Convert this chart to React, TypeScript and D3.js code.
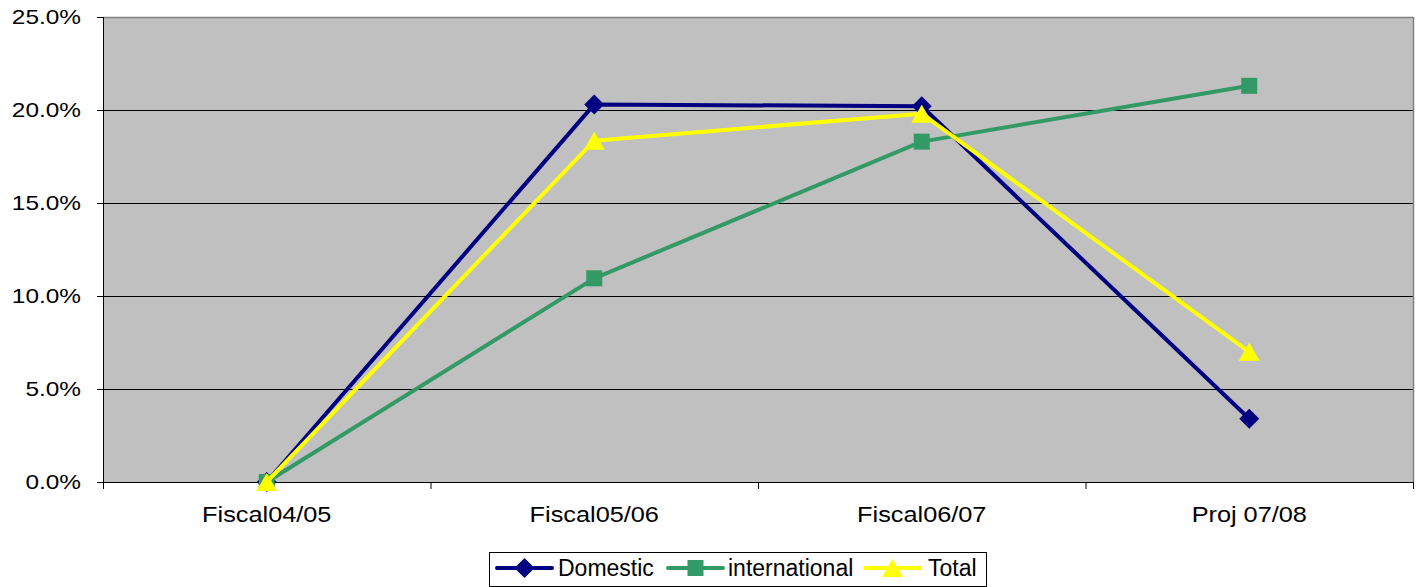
import React from "react";
import * as d3 from "d3";

const categories = ["Fiscal04/05", "Fiscal05/06", "Fiscal06/07", "Proj 07/08"];
const domestic = [0.0, 20.3, 20.2, 3.4];
const international = [0.0, 10.95, 18.3, 21.3];
const total = [0.0, 18.35, 19.8, 7.0];
const yTicks = [0, 5, 10, 15, 20, 25];

const series = [
  { name: "Domestic", values: domestic, color: "#000080", marker: "diamond" },
  { name: "international", values: international, color: "#339966", marker: "square" },
  { name: "Total", values: total, color: "#FFFF00", marker: "triangle" },
];

const W = 1422, H = 587;
const left = 103, right = 1413, top = 17, bottom = 482;
const font = "'Liberation Sans', Arial, sans-serif";

function Marker({ type, x, y, color }: { type: string; x: number; y: number; color: string }) {
  if (type === "diamond") {
    const s = 10;
    return <path d={`M${x},${y - s}L${x + s},${y}L${x},${y + s}L${x - s},${y}Z`} fill={color} />;
  }
  if (type === "square") {
    const s = 8;
    return <rect x={x - s} y={y - s} width={2 * s} height={2 * s} fill={color} />;
  }
  const s = 10.5;
  return <path d={`M${x},${y - 9}L${x + s},${y + 9}L${x - s},${y + 9}Z`} fill={color} />;
}

export default function App() {
  const x = d3.scaleBand<string>().domain(categories).range([left, right]).padding(0);
  const y = d3.scaleLinear().domain([0, 25]).range([bottom, top]);
  const cx = (c: string) => (x(c) as number) + x.bandwidth() / 2;
  const line = d3
    .line<number>()
    .x((_, i) => cx(categories[i]))
    .y((d) => y(d));

  const legendItems = [
    { lx: 497, tx: 558 },
    { lx: 668, tx: 728 },
    { lx: 865, tx: 928 },
  ];
  const ly = 568;

  return (
    <svg width={W} height={H} style={{ position: "absolute", left: 0, top: 0 }}>
      <rect x={0} y={0} width={W} height={H} fill="#fff" />
      <rect x={left} y={top} width={right - left} height={bottom - top} fill="#C0C0C0" />
      {yTicks.slice(1, -1).map((t) => (
        <line key={t} x1={left} x2={right} y1={y(t) + 0.5} y2={y(t) + 0.5} stroke="#000" strokeWidth={1} />
      ))}
      <line x1={left} x2={right} y1={top + 0.5} y2={top + 0.5} stroke="#808080" strokeWidth={1.5} />
      <line x1={right + 0.5} x2={right + 0.5} y1={top} y2={bottom} stroke="#808080" strokeWidth={1.5} />
      <line x1={left + 0.5} x2={left + 0.5} y1={top} y2={bottom + 7} stroke="#000" strokeWidth={1} />
      <line x1={left} x2={right} y1={bottom + 0.5} y2={bottom + 0.5} stroke="#000" strokeWidth={1} />
      {yTicks.map((t) => (
        <g key={t}>
          <line x1={left - 6} x2={left} y1={y(t) + 0.5} y2={y(t) + 0.5} stroke="#000" />
          <text
            transform={`translate(81,${y(t)}) scale(1.22,1)`}
            dy="0.36em"
            textAnchor="end"
            fontFamily={font}
            fontSize={20}
            fill="#000"
          >
            {t.toFixed(1) + "%"}
          </text>
        </g>
      ))}
      {categories.map((c, i) => (
        <line key={"t" + i} x1={(x(c) as number) + 0.5} x2={(x(c) as number) + 0.5} y1={bottom} y2={bottom + 7} stroke="#000" />
      ))}
      <line x1={right + 0.5} x2={right + 0.5} y1={bottom} y2={bottom + 7} stroke="#000" />
      {categories.map((c) => (
        <text
          key={c}
          transform={`translate(${cx(c)},521.7) scale(1.15,1)`}
          textAnchor="middle"
          fontFamily={font}
          fontSize={22}
          fill="#000"
        >
          {c}
        </text>
      ))}
      {series.map((s) => (
        <g key={s.name}>
          <path d={line(s.values) || ""} fill="none" stroke={s.color} strokeWidth={4} strokeLinejoin="round" />
          {s.values.map((v, i) => (
            <Marker key={i} type={s.marker} x={cx(categories[i])} y={y(v)} color={s.color} />
          ))}
        </g>
      ))}
      <rect x={489.5} y={552.5} width={497} height={34} fill="#fff" stroke="#000" strokeWidth={1} />
      {series.map((s, i) => (
        <g key={"lg" + s.name}>
          <line x1={legendItems[i].lx} x2={legendItems[i].lx + 55} y1={ly} y2={ly} stroke={s.color} strokeWidth={4} strokeLinecap="round" />
          <Marker type={s.marker} x={legendItems[i].lx + 27.5} y={ly} color={s.color} />
          <text x={legendItems[i].tx} y={ly} dy="0.36em" fontFamily={font} fontSize={23} fill="#000">
            {s.name}
          </text>
        </g>
      ))}
    </svg>
  );
}
